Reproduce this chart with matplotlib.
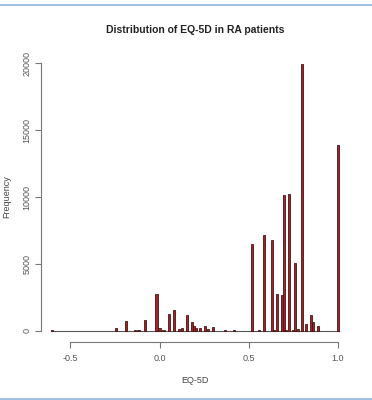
import matplotlib.pyplot as plt
from matplotlib.lines import Line2D

plt.rcParams['font.family'] = ['Liberation Sans', 'DejaVu Sans']

# --- values (bin centre, count) ---
eq5d = [-0.600, -0.242, -0.189, -0.137, -0.118, -0.079, -0.017, 0.000, 0.022,
        0.052, 0.083, 0.107, 0.125, 0.156, 0.181, 0.193, 0.206, 0.225, 0.254,
        0.270, 0.298, 0.369, 0.417, 0.517, 0.558, 0.586, 0.628, 0.640, 0.659,
        0.689, 0.698, 0.706, 0.726, 0.749, 0.758, 0.777, 0.799, 0.819, 0.848,
        0.858, 0.889, 1.000]
counts = [100, 250, 750, 50, 50, 800, 2780, 200, 100,
          1300, 1590, 150, 200, 1200, 670, 370, 200, 200, 350,
          150, 280, 50, 50, 6490, 100, 7160, 6790, 50, 2760,
          2710, 10130, 100, 10240, 50, 5070, 150, 19950, 540, 1190,
          690, 350, 13900]
x_ticks = [-0.5, 0.0, 0.5, 1.0]
y_ticks = [0, 5000, 10000, 15000, 20000]

fig = plt.figure(figsize=(3.72, 4.0), dpi=100)
ax = fig.add_axes([41 / 372, (400 - 341.7) / 400, (349.4 - 41) / 372, (341.7 - 52.3) / 400])

# empty bins show as a flat line along zero
ax.plot([min(eq5d) - 0.006, max(eq5d) + 0.006], [0, 0], color='#555555', lw=0.8, zorder=1)
ax.bar(eq5d, counts, width=0.012, color='#a02428', edgecolor='#4a1414', linewidth=0.6, zorder=2)

ax.set_xlim(-0.664, 1.064)
ax.set_ylim(-800, 20800)

for s in ['top', 'right']:
    ax.spines[s].set_visible(False)
ax.spines['left'].set_bounds(0, 20000)
ax.spines['bottom'].set_bounds(-0.5, 1.0)
for s in ['left', 'bottom']:
    ax.spines[s].set_color('#777777')
    ax.spines[s].set_linewidth(0.8)

ax.set_xticks(x_ticks)
ax.set_xticklabels(['-0.5', '0.0', '0.5', '1.0'])
ax.set_yticks(y_ticks)
ax.set_yticklabels([str(v) for v in y_ticks], rotation=90, va='center')
ax.tick_params(colors='#777777', labelcolor='#555555', labelsize=6.5, length=4, width=0.8)
ax.tick_params(axis='x', pad=5)
ax.tick_params(axis='y', pad=3)

ax.set_xlabel('EQ-5D', fontsize=6.5, color='#444444', labelpad=9)
ax.set_ylabel('Frequency', fontsize=6.5, color='#444444', labelpad=8)
ax.set_title('Distribution of EQ-5D in RA patients', fontsize=7.5, fontweight='bold', color='#222222', pad=14)

# light blue frame lines at top and bottom of the picture
fig.add_artist(Line2D([0, 1], [1 - 5 / 400, 1 - 5 / 400], color='#8fb3d9', lw=1.2))
fig.add_artist(Line2D([0, 1], [1 / 400, 1 / 400], color='#8fb3d9', lw=1.2))

fig.savefig('out.png', dpi=100)
